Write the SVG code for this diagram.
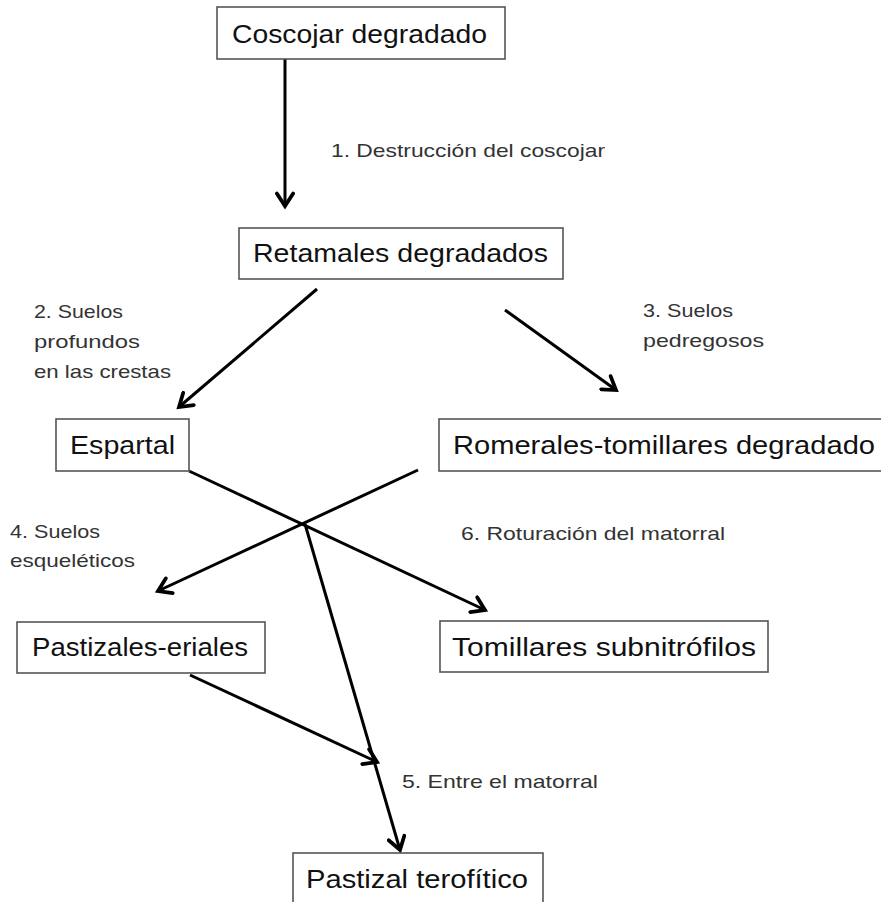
<svg xmlns="http://www.w3.org/2000/svg" width="881" height="902" viewBox="0 0 881 902">
<style>
.box{fill:#fff;stroke:#555;stroke-width:1.6}
.bt{font-family:"Liberation Sans",Arial,sans-serif;font-size:26px;fill:#111}
.lb{font-family:"Liberation Sans",Arial,sans-serif;font-size:19px;fill:#333}
.cn{stroke:#000;stroke-width:3;fill:none;marker-end:url(#ah)}
</style>
<defs>
<marker id="ah" markerUnits="userSpaceOnUse" markerWidth="20" markerHeight="20" viewBox="-12 -8 14 16" refX="0" refY="0" orient="auto">
<path d="M-10,-6.5 L0,0 L-10,6.5" fill="none" stroke="#000" stroke-width="3" stroke-linecap="round" stroke-linejoin="miter"/>
</marker>
</defs>
<rect width="881" height="902" fill="#fff"/>
<g id="connectors">
<line class="cn" x1="285" y1="59" x2="285" y2="206"/>
<line class="cn" x1="317" y1="289" x2="179" y2="407"/>
<line class="cn" x1="505" y1="310" x2="616" y2="390"/>
<line class="cn" x1="189" y1="471" x2="485" y2="610"/>
<line class="cn" x1="418" y1="470" x2="158" y2="591"/>
<line class="cn" x1="305" y1="524" x2="400" y2="850"/>
<line class="cn" x1="190" y1="675" x2="377" y2="762"/>
</g>
<g id="labels">
<text class="lb" x="331" y="157" textLength="274" lengthAdjust="spacingAndGlyphs">1. Destrucción del coscojar</text>
<text class="lb" x="34" y="318" textLength="89" lengthAdjust="spacingAndGlyphs">2. Suelos</text>
<text class="lb" x="34" y="348" textLength="106" lengthAdjust="spacingAndGlyphs">profundos</text>
<text class="lb" x="34" y="378" textLength="137" lengthAdjust="spacingAndGlyphs">en las crestas</text>
<text class="lb" x="643" y="317" textLength="90" lengthAdjust="spacingAndGlyphs">3. Suelos</text>
<text class="lb" x="643" y="347" textLength="121" lengthAdjust="spacingAndGlyphs">pedregosos</text>
<text class="lb" x="10" y="538" textLength="90" lengthAdjust="spacingAndGlyphs">4. Suelos</text>
<text class="lb" x="10" y="567" textLength="125" lengthAdjust="spacingAndGlyphs">esqueléticos</text>
<text class="lb" x="461" y="540" textLength="264" lengthAdjust="spacingAndGlyphs">6. Roturación del matorral</text>
<text class="lb" x="402" y="788" textLength="196" lengthAdjust="spacingAndGlyphs">5. Entre el matorral</text>
</g>
<g id="n1"><rect class="box" x="217" y="7" width="288" height="52"/><text class="bt" x="232" y="43" textLength="255" lengthAdjust="spacingAndGlyphs">Coscojar degradado</text></g>
<g id="n2"><rect class="box" x="239" y="228" width="324" height="51"/><text class="bt" x="253" y="262" textLength="295" lengthAdjust="spacingAndGlyphs">Retamales degradados</text></g>
<g id="n3"><rect class="box" x="56" y="419" width="133" height="52"/><text class="bt" x="70" y="454" textLength="105" lengthAdjust="spacingAndGlyphs">Espartal</text></g>
<g id="n4"><rect class="box" x="439" y="419" width="450" height="52"/><text class="bt" x="453" y="454" textLength="422" lengthAdjust="spacingAndGlyphs">Romerales-tomillares degradado</text></g>
<g id="n5"><rect class="box" x="17" y="622" width="248" height="51"/><text class="bt" x="32" y="656" textLength="216" lengthAdjust="spacingAndGlyphs">Pastizales-eriales</text></g>
<g id="n6"><rect class="box" x="440" y="621" width="328" height="51"/><text class="bt" x="452" y="656" textLength="304" lengthAdjust="spacingAndGlyphs">Tomillares subnitrófilos</text></g>
<g id="n7"><rect class="box" x="293" y="853" width="250" height="60"/><text class="bt" x="306" y="888" textLength="222" lengthAdjust="spacingAndGlyphs">Pastizal terofítico</text></g>
</svg>
